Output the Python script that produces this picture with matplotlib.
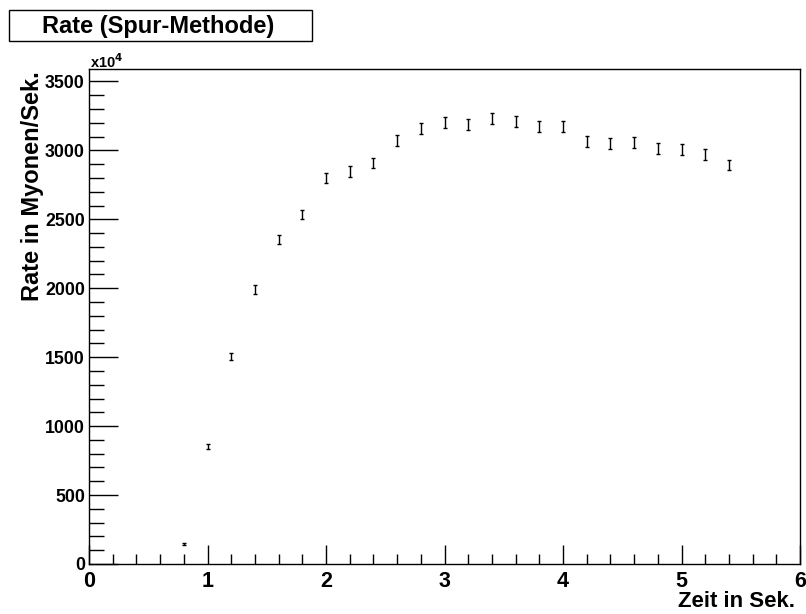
import matplotlib
matplotlib.use("Agg")
import matplotlib.pyplot as plt
from matplotlib.ticker import MultipleLocator
from matplotlib.patches import Rectangle

plt.rcParams['font.family'] = ['Liberation Sans', 'DejaVu Sans']

# Measurement times (s), rates (x10^4 muons/s) and their statistical errors
zeit = [0.8, 1.0, 1.2, 1.4, 1.6, 1.8, 2.0, 2.2, 2.4, 2.6, 2.8, 3.0,
        3.2, 3.4, 3.6, 3.8, 4.0, 4.2, 4.4, 4.6, 4.8, 5.0, 5.2, 5.4]
rate = [145, 855, 1505, 1990, 2355, 2535, 2800, 2845, 2910, 3070, 3160, 3200,
        3185, 3230, 3210, 3170, 3170, 3065, 3050, 3060, 3015, 3005, 2970, 2895]
fehler = [10, 18, 25, 30, 33, 35, 37, 38, 38, 40, 40, 41,
          41, 41, 41, 40, 40, 40, 40, 40, 39, 39, 39, 38]

fig = plt.figure(figsize=(8.06, 6.14), dpi=100)
ax = fig.add_axes([89 / 806, 1 - 564 / 614, 711 / 806, 495 / 614])

ax.errorbar(zeit, rate, yerr=fehler, fmt='none', ecolor='black',
            elinewidth=1.0, capsize=1.5, capthick=1.0)

ax.set_xlim(0, 6)
ax.set_ylim(0, 3590)

ax.xaxis.set_major_locator(MultipleLocator(1))
ax.xaxis.set_minor_locator(MultipleLocator(0.2))
ax.yaxis.set_major_locator(MultipleLocator(500))
ax.yaxis.set_minor_locator(MultipleLocator(100))

ax.tick_params(axis='x', which='major', direction='in', length=14, width=1,
               labelsize=15.5, pad=5, top=False)
ax.tick_params(axis='x', which='minor', direction='in', length=7, width=1, top=False)
ax.tick_params(axis='y', which='major', direction='in', length=21, width=1,
               labelsize=12.8, pad=3, right=False)
ax.tick_params(axis='y', which='minor', direction='in', length=11, width=1, right=False)
for lab in ax.get_xticklabels() + ax.get_yticklabels():
    lab.set_fontweight('bold')

for sp in ax.spines.values():
    sp.set_linewidth(1.0)

ax.set_xlabel('Zeit in Sek.', fontsize=16, fontweight='bold', loc='right')
ax.set_ylabel('Rate in Myonen/Sek.', fontsize=17, fontweight='bold', loc='top')
ax.xaxis.set_label_coords(1 - 5 / 711, -27 / 495)
ax.yaxis.set_label_coords(-45 / 711, 1 - 2 / 495)

# Exponent marker above the y axis
fig.text(90 / 806, 1 - 62 / 614, r'x10$^{\mathbf{4}}$', fontsize=10.5, fontweight='bold',
         ha='left', va='center')

# Title box
fig.patches.append(Rectangle((9 / 806, 1 - 41 / 614), 303 / 806, 31 / 614,
                             transform=fig.transFigure, fill=False,
                             edgecolor='black', linewidth=1.0))
fig.text(158 / 806, 1 - 27 / 614, 'Rate (Spur-Methode)', fontsize=17,
         fontweight='bold', ha='center', va='center')

fig.savefig('out.png', dpi=100)
